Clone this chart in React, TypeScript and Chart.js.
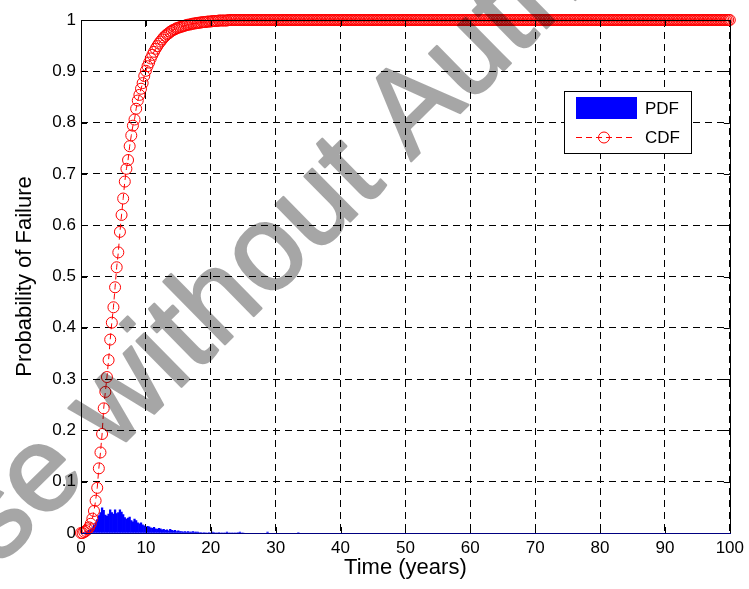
import React, { useEffect, useRef } from 'react';
import { Chart, registerables } from 'chart.js';

Chart.register(...registerables);

// time step of the simulation (years)
const STEP = 0.25;

// CDF, t = 0 .. 24.75 (step 0.25)
const cdfHead = [
  0, 0, 0.002, 0.004,
  0.007, 0.011, 0.018, 0.028,
  0.043, 0.063, 0.088, 0.126,
  0.157, 0.193, 0.243, 0.275,
  0.304, 0.337, 0.377, 0.41,
  0.44, 0.479, 0.518, 0.547,
  0.587, 0.62, 0.652, 0.685,
  0.71, 0.727, 0.754, 0.775,
  0.794, 0.806, 0.827, 0.843,
  0.854, 0.866, 0.877, 0.891,
  0.901, 0.91, 0.917, 0.925,
  0.932, 0.938, 0.944, 0.949,
  0.954, 0.958, 0.962, 0.966,
  0.969, 0.972, 0.974, 0.977,
  0.979, 0.981, 0.982, 0.984,
  0.985, 0.986, 0.987, 0.988,
  0.989, 0.99, 0.991, 0.991,
  0.992, 0.993, 0.993, 0.994,
  0.994, 0.995, 0.995, 0.996,
  0.996, 0.996, 0.997, 0.997,
  0.997, 0.998, 0.998, 0.998,
  0.998, 0.999, 0.999, 0.999,
  0.999, 0.999, 0.999, 1,
  1, 1, 1, 1,
  1, 1, 1, 1,
];
// CDF plateau value for t = 25 .. 100
const cdfPlateauValue = 1;
const cdfPlateauCount = 301;

// PDF bars, t = 0 .. 25 (step 0.25)
const pdfHead = [
  0, 0, 0.001, 0.002,
  0.003, 0.005, 0.007, 0.01,
  0.015, 0.02, 0.026, 0.034,
  0.04, 0.049, 0.044, 0.035,
  0.033, 0.037, 0.045, 0.04,
  0.037, 0.045, 0.038, 0.04,
  0.045, 0.041, 0.036, 0.03,
  0.027, 0.029, 0.031, 0.024,
  0.022, 0.027, 0.024, 0.02,
  0.018, 0.02, 0.016, 0.014,
  0.011, 0.013, 0.012, 0.01,
  0.009, 0.011, 0.008, 0.007,
  0.009, 0.008, 0.006, 0.007,
  0.005, 0.006, 0.004, 0.007,
  0.005, 0.004, 0.005, 0.003,
  0.004, 0.003, 0.003, 0.002,
  0.003, 0.002, 0.003, 0.002,
  0.002, 0.003, 0.002, 0.002,
  0.002, 0.001, 0.001, 0,
  0.001, 0, 0, 0.001,
  0, 0.002, 0.001, 0,
  0, 0.001, 0, 0,
  0, 0, 0.002, 0,
  0, 0, 0, 0,
  0, 0.001, 0.002, 0,
  0,
];
const pdfLateYears = [28.75, 33.5];
const pdfLateValues = [0.002, 0.001];

const xTickLabels = ['0', '10', '20', '30', '40', '50', '60', '70', '80', '90', '100'];
const yTickLabels = ['0', '0.1', '0.2', '0.3', '0.4', '0.5', '0.6', '0.7', '0.8', '0.9', '1'];

const xTitle = 'Time (years)';
const yTitle = 'Probability of Failure';
const pdfLabel = 'PDF';
const cdfLabel = 'CDF';
const watermarkText = 'Use without Authorization';

const FONT = '"Liberation Sans", Arial, Helvetica, sans-serif';

const cdfValues = [...cdfHead, ...new Array(cdfPlateauCount).fill(cdfPlateauValue)];
const cdfPoints = cdfValues.map((v, i) => ({ x: i * STEP, y: v }));
const pdfPoints = [
  ...pdfHead.map((v, i) => ({ x: i * STEP, y: v })),
  ...pdfLateYears.map((x, i) => ({ x, y: pdfLateValues[i] })),
];

const framePlugin = {
  id: 'matlabFrame',
  afterDraw(chart: any) {
    const { ctx, chartArea } = chart;
    const { left, right, top, bottom } = chartArea;
    const xs = chart.scales.x;
    const ys = chart.scales.y;
    ctx.save();
    // inward ticks
    ctx.strokeStyle = '#000';
    ctx.lineWidth = 1;
    const tl = 6;
    ctx.beginPath();
    xs.ticks.forEach((t: any) => {
      const px = Math.round(xs.getPixelForValue(t.value)) + 0.5;
      ctx.moveTo(px, bottom);
      ctx.lineTo(px, bottom - tl);
      ctx.moveTo(px, top);
      ctx.lineTo(px, top + tl);
    });
    ys.ticks.forEach((t: any) => {
      const py = Math.round(ys.getPixelForValue(t.value)) + 0.5;
      ctx.moveTo(left, py);
      ctx.lineTo(left + tl, py);
      ctx.moveTo(right, py);
      ctx.lineTo(right - tl, py);
    });
    ctx.stroke();
    // box
    ctx.beginPath();
    ctx.moveTo(Math.round(left) + 0.5, Math.round(bottom) + 0.5);
    ctx.lineTo(Math.round(left) + 0.5, Math.round(top) + 0.5);
    ctx.lineTo(Math.round(right) + 0.5, Math.round(top) + 0.5);
    ctx.lineTo(Math.round(right) + 0.5, Math.round(bottom) + 0.5);
    ctx.stroke();
    ctx.strokeStyle = '#000080';
    ctx.beginPath();
    ctx.moveTo(Math.round(left), Math.round(bottom) + 0.5);
    ctx.lineTo(Math.round(right) + 1, Math.round(bottom) + 0.5);
    ctx.stroke();

    // legend
    const lx = 564.5, ly = 91.5, lw = 127, lh = 62;
    ctx.fillStyle = '#fff';
    ctx.fillRect(lx, ly, lw, lh);
    ctx.strokeStyle = '#000';
    ctx.lineWidth = 1;
    ctx.strokeRect(lx, ly, lw, lh);
    ctx.fillStyle = '#0000ff';
    ctx.fillRect(576, 97, 61, 22);
    ctx.strokeStyle = '#ff0000';
    ctx.setLineDash([6, 4]);
    ctx.beginPath();
    ctx.moveTo(576, 137.5);
    ctx.lineTo(632, 137.5);
    ctx.stroke();
    ctx.setLineDash([]);
    ctx.beginPath();
    ctx.arc(604, 137.5, 5.5, 0, Math.PI * 2);
    ctx.stroke();
    ctx.fillStyle = '#000';
    ctx.font = `17px ${FONT}`;
    ctx.textAlign = 'left';
    ctx.textBaseline = 'middle';
    ctx.fillText(pdfLabel, 645, 109);
    ctx.fillText(cdfLabel, 645, 138);

    // watermark (drawn opaque off-screen, then composited with transparency)
    const off = document.createElement('canvas');
    off.width = chart.width;
    off.height = chart.height;
    const o = off.getContext('2d') as CanvasRenderingContext2D;
    o.translate(-64, 628);
    o.rotate(-44.5 * Math.PI / 180);
    o.font = `121px ${FONT}`;
    o.textAlign = 'left';
    o.textBaseline = 'alphabetic';
    o.fillStyle = '#000';
    o.strokeStyle = '#000';
    o.lineWidth = 2.5;
    o.lineJoin = 'round';
    o.fillText(watermarkText, 0, 0);
    o.strokeText(watermarkText, 0, 0);
    ctx.globalAlpha = 0.35;
    ctx.drawImage(off, 0, 0);
    ctx.restore();
  },
};

export default function App() {
  const ref = useRef<HTMLCanvasElement | null>(null);
  useEffect(() => {
    document.body.style.margin = '0';
    const canvas = ref.current;
    if (!canvas) return;
    Chart.defaults.font.family = FONT;
    Chart.defaults.color = '#000';
    const chart = new Chart(canvas, {
      type: 'bar',
      data: {
        datasets: [
          {
            type: 'line',
            label: cdfLabel,
            data: cdfPoints,
            borderColor: '#ff0000',
            borderWidth: 1,
            borderDash: [6, 4],
            pointStyle: 'circle',
            pointRadius: 5.5,
            pointBorderColor: '#ff0000',
            pointBackgroundColor: 'rgba(0,0,0,0)',
            pointBorderWidth: 1,
            clip: false,
            order: 0,
          } as any,
          {
            type: 'bar',
            label: pdfLabel,
            data: pdfPoints,
            backgroundColor: '#0000ff',
            borderWidth: 0,
            barPercentage: 1,
            categoryPercentage: 1,
            grouped: false,
            order: 1,
          } as any,
        ],
      },
      options: {
        responsive: false,
        animation: false,
        devicePixelRatio: 1,
        layout: { padding: { top: 20, right: 18, left: 0, bottom: 0 } },
        plugins: { legend: { display: false }, tooltip: { enabled: false } },
        scales: {
          x: {
            type: 'linear',
            min: 0,
            max: 100,
            offset: false,
            grid: { color: '#000', lineWidth: 1, drawTicks: false, offset: false },
            border: { display: false, dash: [7, 5] },
            ticks: {
              stepSize: 10,
              padding: 5,
              maxRotation: 0,
              autoSkip: false,
              font: { size: 17 },
              callback: (_v: any, i: number) => xTickLabels[i],
            },
            title: { display: true, text: xTitle, font: { size: 22 }, padding: { top: 0, bottom: 8 } },
            afterFit: (s: any) => { s.height = 56; },
          },
          y: {
            type: 'linear',
            min: 0,
            max: 1,
            grid: { color: '#000', lineWidth: 1, drawTicks: false },
            border: { display: false, dash: [7, 5] },
            ticks: {
              stepSize: 0.1,
              padding: 5,
              autoSkip: false,
              font: { size: 17 },
              callback: (_v: any, i: number) => yTickLabels[i],
            },
            title: { display: true, text: yTitle, font: { size: 22 }, padding: { top: 12, bottom: 0 } },
            afterFit: (s: any) => { s.width = 81; },
          },
        },
      },
      plugins: [framePlugin],
    } as any);
    return () => chart.destroy();
  }, []);
  return (
    <div style={{ width: 749, height: 589 }}>
      <canvas ref={ref} width={749} height={589} style={{ display: 'block' }} />
    </div>
  );
}
